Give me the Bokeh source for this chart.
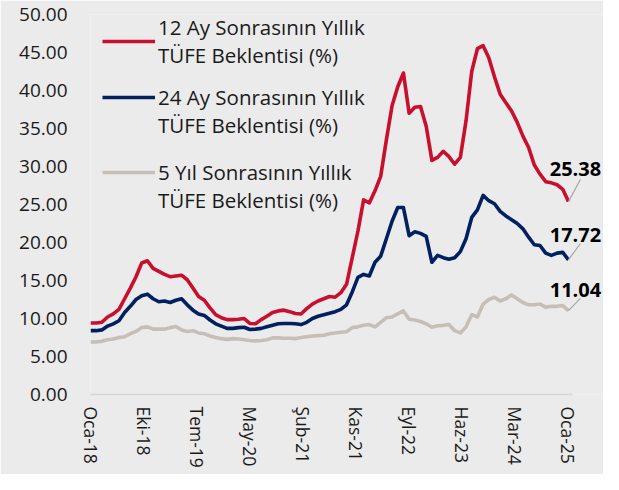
from bokeh.plotting import figure
from bokeh.models import (Range1d, FixedTicker, CustomJSTickFormatter, Legend, LegendItem,
                          Label, Arrow)
from bokeh.embed import file_html
from bokeh.resources import INLINE

tick_labels = ["Oca-18", "Eki-18", "Tem-19", "May-20", "Şub-21", "Kas-21",
               "Eyl-22", "Haz-23", "Mar-24", "Oca-25"]

series_names = ["12 Ay Sonrasının Yıllık\nTÜFE Beklentisi (%)",
                "24 Ay Sonrasının Yıllık\nTÜFE Beklentisi (%)",
                "5 Yıl Sonrasının Yıllık\nTÜFE Beklentisi (%)"]

# monthly values, Jan 2018 .. Jan 2025 (85 months)
exp_12m = [9.4, 9.4, 9.5, 10.2, 10.6, 11.2, 12.6, 14.0, 15.5, 17.3,
           17.6, 16.6, 16.2, 15.8, 15.5, 15.6, 15.7, 15.1, 14.0, 12.9,
           12.4, 11.4, 10.5, 10.1, 9.85, 9.85, 9.9, 10.0, 9.35, 9.3,
           9.85, 10.3, 10.8, 11.0, 11.1, 10.9, 10.65, 10.6, 11.3, 11.9,
           12.3, 12.6, 12.9, 12.8, 13.4, 14.5, 18.0, 21.5, 25.6, 25.2,
           26.8, 28.7, 33.5, 38.0, 40.5, 42.3, 37.0, 37.8, 37.9, 35.3,
           30.8, 31.2, 32.0, 31.3, 30.3, 31.2, 36.0, 42.5, 45.5, 45.9,
           44.3, 41.8, 39.5, 38.4, 37.3, 35.8, 34.0, 32.5, 30.2, 29.0,
           28.0, 27.85, 27.6, 27.0, 25.38]

exp_24m = [8.4, 8.4, 8.5, 9.0, 9.3, 9.7, 10.8, 11.6, 12.5, 13.0,
           13.2, 12.6, 12.2, 12.3, 12.1, 12.4, 12.6, 11.8, 11.1, 10.6,
           10.4, 9.8, 9.3, 9.0, 8.7, 8.7, 8.8, 8.85, 8.55, 8.6,
           8.7, 8.9, 9.1, 9.3, 9.35, 9.35, 9.3, 9.2, 9.5, 10.0,
           10.3, 10.5, 10.7, 10.9, 11.2, 11.8, 13.5, 15.4, 15.8, 15.6,
           17.4, 18.2, 20.5, 22.8, 24.6, 24.6, 20.9, 21.4, 21.2, 20.8,
           17.4, 18.3, 18.0, 17.8, 18.0, 18.8, 20.5, 23.3, 24.3, 26.2,
           25.5, 25.1, 24.1, 23.5, 23.0, 22.5, 21.8, 20.7, 19.7, 19.6,
           18.6, 18.3, 18.6, 18.7, 17.72]

exp_5y = [6.9, 6.9, 7.0, 7.2, 7.3, 7.5, 7.6, 8.0, 8.3, 8.8,
          8.9, 8.6, 8.6, 8.6, 8.8, 8.95, 8.5, 8.3, 8.4, 8.1,
          8.0, 7.7, 7.5, 7.35, 7.25, 7.35, 7.3, 7.2, 7.1, 7.05,
          7.1, 7.2, 7.45, 7.45, 7.4, 7.4, 7.35, 7.5, 7.6, 7.7,
          7.75, 7.8, 8.0, 8.1, 8.2, 8.25, 8.8, 8.9, 9.1, 9.2,
          8.9, 9.5, 10.1, 10.2, 10.6, 11.0, 9.9, 9.8, 9.6, 9.3,
          8.85, 9.05, 9.1, 9.2, 8.4, 8.1, 8.9, 10.5, 10.2, 11.9,
          12.5, 12.8, 12.3, 12.6, 13.1, 12.6, 12.1, 11.8, 11.8, 11.9,
          11.5, 11.6, 11.6, 11.7, 11.04]

months = list(range(len(exp_12m)))
n_last = months[-1]

BG = "#EBEBEB"
FONT = "Open Sans"
colors = ["#C8102E", "#002060", "#C5BFB8"]

p = figure(width=603, height=474, output_backend="svg", toolbar_location=None,
           x_range=Range1d(0, 90.16), y_range=Range1d(0, 50),
           min_border_left=90, min_border_right=0, min_border_top=14, min_border_bottom=80,
           background_fill_color=BG, border_fill_color=BG, outline_line_color=None)
p.title.visible = False
p.grid.visible = False

renderers = []
for vals, c in zip([exp_12m, exp_24m, exp_5y], colors):
    r = p.line(months, vals, line_color=c, line_width=3.6, line_join="round")
    renderers.append(r)

# axes
n_ticks = len(tick_labels)
p.xaxis.ticker = FixedTicker(ticks=[k * n_last / (n_ticks - 1) for k in range(n_ticks)])
p.xaxis.formatter = CustomJSTickFormatter(args=dict(labels=tick_labels, n=n_last, k=n_ticks - 1),
                                          code="return labels[Math.round(tick * k / n)];")
p.xaxis.bounds = (0, 84.7)
p.xaxis.major_label_orientation = "vertical"
p.xaxis.axis_line_color = "#D6D6D6"
p.xaxis.axis_line_width = 1.5
p.xaxis.major_label_standoff = 12
p.xaxis.major_label_text_font_size = "17.5px"

p.yaxis.ticker = FixedTicker(ticks=list(range(0, 51, 5)))
p.yaxis.formatter = CustomJSTickFormatter(code="return tick.toFixed(2);")
p.yaxis.axis_line_color = None
p.yaxis.major_label_standoff = 23
p.yaxis.major_label_text_font_size = "19px"

for ax in [p.xaxis[0], p.yaxis[0]]:
    ax.major_tick_line_color = None
    ax.minor_tick_line_color = None
    ax.major_tick_out = 0
    ax.major_tick_in = 0
    ax.minor_tick_out = 0
    ax.minor_tick_in = 0
    ax.major_label_text_font = FONT
    ax.major_label_text_color = "#1A1A1A"

# legend: one small legend per series so each entry can be placed freely;
# a blank first line keeps the swatch level with the first text line
legend_specs = [(series_names[0], 325), ("\n" + series_names[1], 255), ("\n" + series_names[2], 180)]
for (lab, vy), r in zip(legend_specs, renderers):
    p.add_layout(Legend(items=[LegendItem(label=lab, renderers=[r])],
                        location=(12, vy), orientation="vertical",
                        background_fill_alpha=0, border_line_color=None,
                        label_text_font=FONT, label_text_font_size="20.5px",
                        label_text_color="#1A1A1A", label_text_line_height=1.525,
                        glyph_width=53, glyph_height=20, label_standoff=3, spacing=0,
                        margin=0, padding=5))

# end labels with leader lines
offsets = [(33.0, 2.9), (25.0, 2.15), (21.0, 1.6)]
for vals, (yo, dy) in zip([exp_12m, exp_24m, exp_5y], offsets):
    v = vals[-1]
    p.add_layout(Arrow(end=None, x_start=n_last, y_start=v, x_end=n_last + 2.1, y_end=v + dy,
                       line_color="#A6A6A6", line_width=1.2))
    p.add_layout(Label(x=n_last, y=v, text=f"{v:.2f}", x_offset=7, y_offset=yo,
                       text_align="center", text_baseline="alphabetic",
                       text_font=FONT, text_font_size="20px", text_font_style="bold",
                       text_color="#000000"))

open("out.html", "w").write(file_html(p, INLINE))
